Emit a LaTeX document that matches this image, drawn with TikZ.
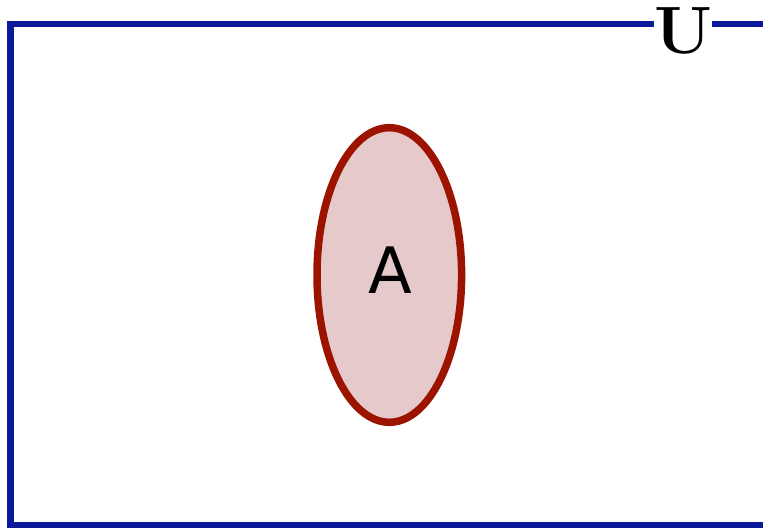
\documentclass[tikz,border=0pt]{standalone}
\usepackage{fontspec}
\newfontfamily\dejavu{DejaVu Sans}
\usetikzlibrary{shapes.geometric}
\definecolor{ublue}{HTML}{0B1A9A}
\definecolor{sred}{HTML}{9C1400}
\definecolor{sfill}{HTML}{E6CACB}
\tikzset{
  universe/.style={draw=ublue, line width=6.7pt},
  setshape/.style={ellipse, draw=sred, fill=sfill, line width=7.5pt, inner sep=0pt, outer sep=0pt,
    minimum width=144.6pt, minimum height=294.6pt},
  setlabel/.style={font=\dejavu\fontsize{64}{64}\selectfont, inner sep=0pt},
  ulabel/.style={font=\fontsize{67}{67}\selectfont\bfseries, fill=white, inner sep=0pt, anchor=base}
}
\begin{document}
\begin{tikzpicture}[x=1pt,y=-1pt]
\useasboundingbox (0,0) rectangle (763,528);
\begin{scope}
\clip (0,0) rectangle (763,528);
\draw[universe] (780,24) -- (10.7,24) -- (10.7,525) -- (780,525);
\end{scope}
\node[ulabel] (U) at (683,53) {U};
\node[setshape] (Aset) at (389.3,275) {};
\node[setlabel] (Alab) at (390.5,270.5) {A};
\end{tikzpicture}
\end{document}
